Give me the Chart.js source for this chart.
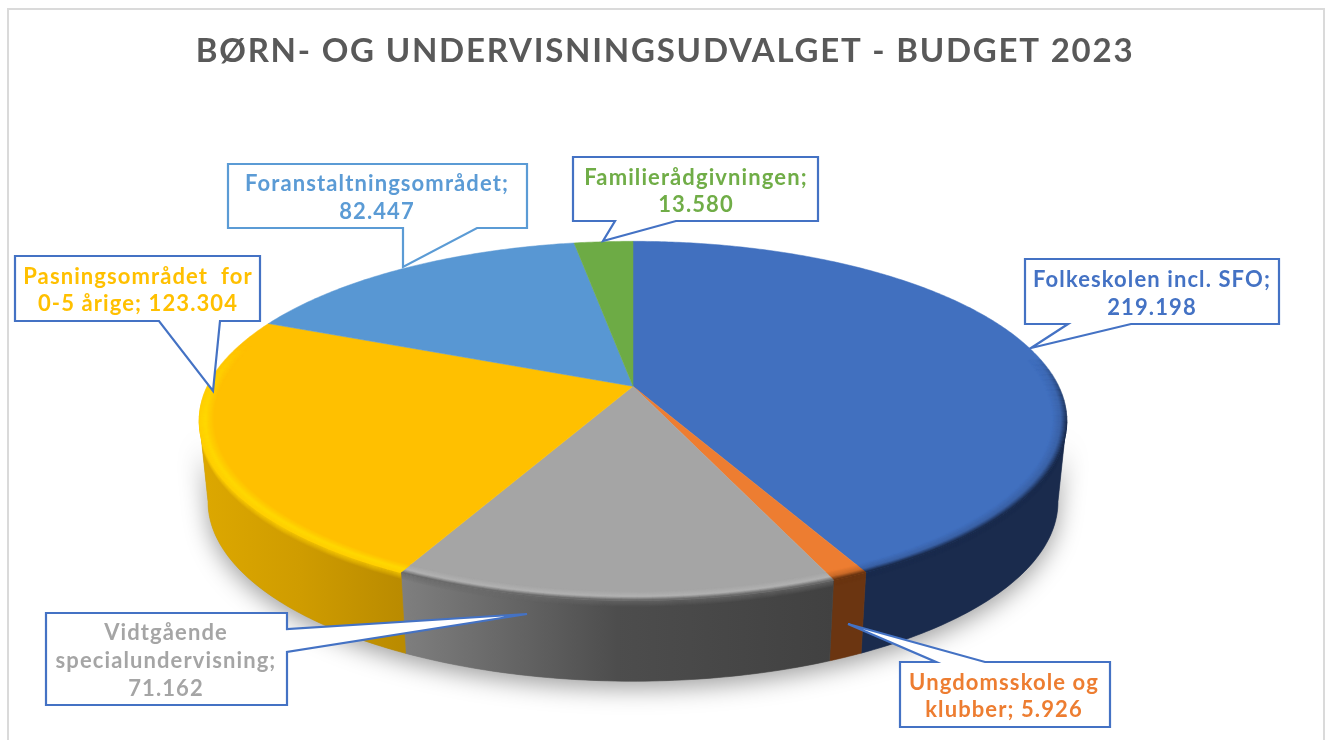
<!DOCTYPE html>
<html>
<head>
<meta charset="utf-8">
<title>Budget 2023</title>
<script src="https://cdn.jsdelivr.net/npm/chart.js@4/dist/chart.umd.min.js"></script>
<style>
  html, body { margin: 0; padding: 0; background: #fff; }
  canvas { display: block; }
</style>
</head>
<body>
<canvas id="pie" width="1330" height="740"></canvas>
<script>
const chartTitle = "BØRN- OG UNDERVISNINGSUDVALGET - BUDGET 2023";
const categoryLines = [
  ["Folkeskolen incl. SFO"],
  ["Ungdomsskole og", "klubber"],
  ["Vidtgående", "specialundervisning"],
  ["Pasningsområdet  for", "0-5 årige"],
  ["Foranstaltningsområdet"],
  ["Familierådgivningen"]
];
const values = [219198, 5926, 71162, 123304, 82447, 13580];
const valueOnOwnLine = [true, false, true, false, true, true];

const sliceColors = ["#4170BF", "#ED7D31", "#A5A5A5", "#FFC000", "#5897D3", "#6DAB45"];
const textColors = ["#4472C4", "#ED7D31", "#A5A5A5", "#FFC000", "#5B9BD5", "#70AD47"];
const rimColors = [
  ["#3A61A6", "#1A2B4D"],
  ["#C96A29", "#6B3511"],
  ["#B2B2B2", "#6A6A6A"],
  ["#FFD800", "#FFD000"],
  ["#5897D3", "#5897D3"],
  ["#6DAB45", "#6DAB45"]
];
const sideColors = [
  ["#1A2B4D", "#1A2B4D"],
  ["#6B3511", "#6B3511"],
  ["#7F7F7F", "#4D4D4D", "#414141"],
  ["#DDA800", "#CF9C00", "#BA8B00"],
  ["#3A6389", "#3A6389"],
  ["#47702D", "#47702D"]
];

// box x,y,w,h, tail base on one edge, then tail tip
const callouts = [
  { box: [1025, 259, 254, 65], base: [[1131, 324], [1068, 324]], tip: [1031, 348], border: "#4472C4", cx: 1152, ys: [280, 308] },
  { box: [900, 662, 210, 65], base: [[936, 662], [985, 662]], tip: [848, 624], border: "#4472C4", cx: 1004, ys: [683, 710] },
  { box: [46, 613, 241, 92], base: [[287, 629], [287, 652]], tip: [527, 614], border: "#4472C4", cx: 166, ys: [633, 661, 689] },
  { box: [15, 256, 245, 65], base: [[220, 321], [159, 321]], tip: [213, 391], border: "#4472C4", cx: 138, ys: [277, 304] },
  { box: [228, 164, 299, 64], base: [[477, 228], [403, 228]], tip: [403, 267], border: "#5B9BD5", cx: 377, ys: [184, 212] },
  { box: [573, 157, 245, 64], base: [[676, 221], [615, 221]], tip: [603, 241], border: "#4472C4", cx: 696, ys: [178, 205] }
];

const shiftX = -32;      // pie sits a bit left of the canvas middle
const depth = 81;
const bottomScale = 0.98;
const tilt = -0.192;     // perspective of the disk
const scaleX = 426 / 308;
const scaleY = 173 / 308;

function project(arc, angle, r) {
  const u = r * Math.cos(angle);
  const v = r * Math.sin(angle);
  const d = 1 + tilt * v;
  return [
    arc.x + shiftX + (scaleX * arc.outerRadius * u) / d,
    arc.y + (scaleY * arc.outerRadius * v) / d
  ];
}

function projectBase(arc, angle) {
  const p = project(arc, angle, 1);
  const cx = arc.x + shiftX;
  return [cx + (p[0] - cx) * bottomScale, p[1] + depth];
}

function hexMix(a, b, t) {
  const pa = [1, 3, 5].map(i => parseInt(a.substr(i, 2), 16));
  const pb = [1, 3, 5].map(i => parseInt(b.substr(i, 2), 16));
  const m = pa.map((c, i) => Math.round(c + (pb[i] - c) * t));
  return "rgb(" + m.join(",") + ")";
}

function sidePath(ctx, arc, a0, a1) {
  ctx.beginPath();
  const steps = 60;
  for (let i = 0; i <= steps; i++) {
    const p = project(arc, a0 + ((a1 - a0) * i) / steps, 1);
    if (i === 0) ctx.moveTo(p[0], p[1]);
    else ctx.lineTo(p[0], p[1]);
  }
  for (let i = steps; i >= 0; i--) {
    const p = projectBase(arc, a0 + ((a1 - a0) * i) / steps);
    ctx.lineTo(p[0], p[1]);
  }
  ctx.closePath();
}

function drawPie(chart) {
  const ctx = chart.ctx;
  const arcs = chart.getDatasetMeta(0).data;
  // visible front part of the wall, in chart angles
  const frontStart = (11 * Math.PI) / 180;
  const frontEnd = (169 * Math.PI) / 180;

  // soft shadow below the disk
  ctx.save();
  ctx.shadowColor = "rgba(0,0,0,0.38)";
  ctx.shadowBlur = 24;
  ctx.shadowOffsetY = 7;
  ctx.fillStyle = "#888";
  sidePath(ctx, arcs[0], frontStart, frontEnd);
  ctx.fill();
  ctx.restore();

  // walls
  arcs.forEach((arc, i) => {
    const a0 = Math.max(arc.startAngle, frontStart);
    const a1 = Math.min(arc.endAngle, frontEnd);
    if (a1 <= a0) return;
    const x0 = project(arc, a0, 1)[0];
    const x1 = project(arc, a1, 1)[0];
    const grad = ctx.createLinearGradient(Math.min(x0, x1), 0, Math.max(x0, x1), 0);
    const stops = sideColors[i];
    stops.forEach((c, k) => grad.addColorStop(k / (stops.length - 1), c));
    ctx.fillStyle = grad;
    sidePath(ctx, arc, a0, a1);
    ctx.fill();
    ctx.strokeStyle = grad;
    ctx.lineWidth = 0.6;
    ctx.stroke();

    // upper part of the wall fades out of the bevel
    ctx.save();
    sidePath(ctx, arc, a0, a1);
    ctx.clip();
    ctx.lineWidth = 1.2;
    ctx.strokeStyle = rimColors[i][1];
    for (let l = 0; l < 7; l++) {
      ctx.globalAlpha = 0.75 * (1 - l / 7);
      ctx.beginPath();
      for (let k = 0; k <= 40; k++) {
        const p = project(arc, a0 + ((a1 - a0) * k) / 40, 1);
        if (k === 0) ctx.moveTo(p[0], p[1] + l);
        else ctx.lineTo(p[0], p[1] + l);
      }
      ctx.stroke();
    }
    ctx.restore();
  });

  // top faces
  arcs.forEach((arc, i) => {
    ctx.beginPath();
    const c = project(arc, 0, 0);
    ctx.moveTo(c[0], c[1]);
    const steps = Math.ceil((arc.endAngle - arc.startAngle) / 0.01);
    for (let k = 0; k <= steps; k++) {
      const p = project(arc, arc.startAngle + ((arc.endAngle - arc.startAngle) * k) / steps, 1);
      ctx.lineTo(p[0], p[1]);
    }
    ctx.closePath();
    ctx.fillStyle = sliceColors[i];
    ctx.fill();
    ctx.strokeStyle = sliceColors[i];
    ctx.lineWidth = 0.5;
    ctx.stroke();
  });

  // bevel along the outer edge of the top face
  const levels = 14;
  const fadeIn = [(-10 * Math.PI) / 180, (15 * Math.PI) / 180];
  const fadeOut = [(172 * Math.PI) / 180, (195 * Math.PI) / 180];
  ctx.lineCap = "butt";
  ctx.lineWidth = 1.4;
  arcs.forEach((arc, i) => {
    for (let l = 0; l <= levels; l++) {
      const s = l / levels;
      const r = 0.968 + 0.032 * s;
      const col = s < 0.6
        ? hexMix(sliceColors[i], rimColors[i][0], s / 0.6)
        : hexMix(rimColors[i][0], rimColors[i][1], (s - 0.6) / 0.4);
      const seg = 0.03;
      for (let a = arc.startAngle; a < arc.endAngle; a += seg) {
        const mid = a + seg / 2;
        const alpha = Math.min(
          Math.max(0, Math.min(1, (mid - fadeIn[0]) / (fadeIn[1] - fadeIn[0]))),
          Math.max(0, Math.min(1, (fadeOut[1] - mid) / (fadeOut[1] - fadeOut[0])))
        );
        if (alpha <= 0) continue;
        const p0 = project(arc, a, r);
        const p1 = project(arc, Math.min(a + seg + 0.002, arc.endAngle), r);
        ctx.globalAlpha = alpha;
        ctx.strokeStyle = col;
        ctx.beginPath();
        ctx.moveTo(p0[0], p0[1]);
        ctx.lineTo(p1[0], p1[1]);
        ctx.stroke();
      }
    }
  });
  ctx.globalAlpha = 1;
}

function calloutLines(i) {
  const num = values[i].toLocaleString("da-DK");
  const lines = categoryLines[i].slice();
  if (valueOnOwnLine[i]) {
    lines[lines.length - 1] += ";";
    lines.push(num);
  } else {
    lines[lines.length - 1] += "; " + num;
  }
  return lines;
}

function drawCallouts(chart) {
  const ctx = chart.ctx;
  callouts.forEach((c, i) => {
    const [x, y, w, h] = c.box;
    const corners = [[x, y], [x + w, y], [x + w, y + h], [x, y + h]];
    ctx.beginPath();
    ctx.moveTo(x, y);
    // walk clockwise, put the tail in on the edge it belongs to
    const b = c.base;
    if (b[0][1] === y) {
      ctx.lineTo(b[0][0], y); ctx.lineTo(c.tip[0], c.tip[1]); ctx.lineTo(b[1][0], y);
    }
    ctx.lineTo(corners[1][0], corners[1][1]);
    if (b[0][0] === x + w) {
      ctx.lineTo(b[0][0], b[0][1]); ctx.lineTo(c.tip[0], c.tip[1]); ctx.lineTo(b[1][0], b[1][1]);
    }
    ctx.lineTo(corners[2][0], corners[2][1]);
    if (b[0][1] === y + h) {
      ctx.lineTo(b[0][0], y + h); ctx.lineTo(c.tip[0], c.tip[1]); ctx.lineTo(b[1][0], y + h);
    }
    ctx.lineTo(corners[3][0], corners[3][1]);
    ctx.closePath();
    ctx.fillStyle = "#fff";
    ctx.fill();
    ctx.strokeStyle = c.border;
    ctx.lineWidth = 2.2;
    ctx.lineJoin = "miter";
    ctx.stroke();

    ctx.fillStyle = textColors[i];
    ctx.font = "bold 22px Lato";
    ctx.letterSpacing = "1.1px";
    ctx.textAlign = "center";
    ctx.textBaseline = "middle";
    calloutLines(i).forEach((t, k) => ctx.fillText(t, c.cx, c.ys[k]));
  });
}

const pie3d = {
  id: "pie3d",
  beforeDraw(chart) {
    const ctx = chart.ctx;
    ctx.save();
    ctx.strokeStyle = "#DADADA";
    ctx.lineWidth = 2;
    ctx.beginPath();
    ctx.moveTo(8, 740);
    ctx.lineTo(8, 9);
    ctx.lineTo(1324, 9);
    ctx.lineTo(1324, 740);
    ctx.stroke();
    ctx.restore();
    ctx.letterSpacing = "1.77px"; // title in the reference runs wide
  },
  beforeDatasetsDraw(chart) {
    const ctx = chart.ctx;
    ctx.save();
    drawPie(chart);
    drawCallouts(chart);
    ctx.restore();
    return false; // the arcs are painted above, in perspective
  }
};

new Chart(document.getElementById("pie"), {
  type: "pie",
  data: {
    labels: categoryLines.map(l => l.join(" ")),
    datasets: [{ data: values, backgroundColor: sliceColors, borderWidth: 0 }]
  },
  options: {
    responsive: false,
    animation: false,
    events: [],
    layout: { padding: { bottom: 46 } },
    plugins: {
      legend: { display: false },
      tooltip: { enabled: false },
      title: {
        display: true,
        text: chartTitle,
        color: "#595959",
        font: { family: "Lato", size: 33, weight: "bold", lineHeight: 1.2 },
        padding: { top: 32, bottom: 7 }
      }
    }
  },
  plugins: [pie3d]
});
</script>
</body>
</html>
